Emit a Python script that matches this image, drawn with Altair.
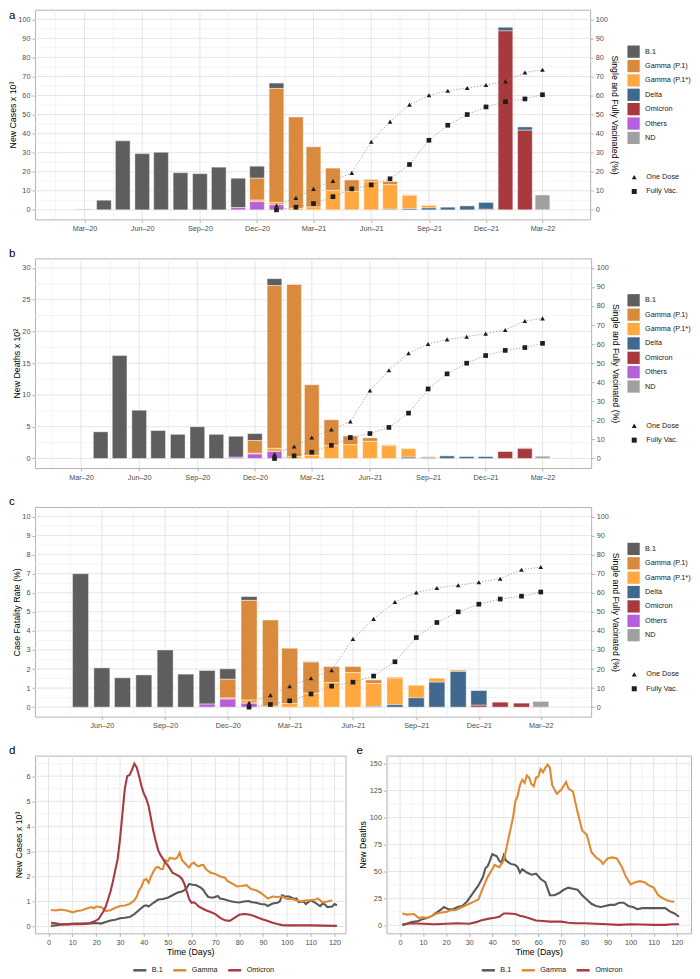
import altair as alt
import pandas as pd

FONT = "Liberation Sans"
SMALL = 7.3
TITLE = 8.8
GRID_MAJOR = "#E2E2E2"
GRID_MINOR = "#EDEDED"
LABEL = "#4D4D4D"

# ---------------- categories ----------------
variants = ["B.1", "Gamma (P.1)", "Gamma (P.1*)", "Delta", "Omicron", "Others", "ND"]
variant_colors = ["#5E5E5E", "#D98A3D", "#FFA83F", "#3F6A8E", "#A83A3E", "#B560DA", "#A0A0A0"]
variant_stack_rank = [6, 5, 4, 3, 2, 1, 0]

months_ab = [d.strftime("%Y-%m-%d") for d in pd.date_range("2020-03-01", "2022-03-01", freq="MS")]
months_c = [d.strftime("%Y-%m-%d") for d in pd.date_range("2020-05-01", "2022-03-01", freq="MS")]
vac_months = [d.strftime("%Y-%m-%d") for d in pd.date_range("2021-01-01", "2022-03-01", freq="MS")]

ticks_ab = ["2020-03-01", "2020-06-01", "2020-09-01", "2020-12-01", "2021-03-01",
            "2021-06-01", "2021-09-01", "2021-12-01", "2022-03-01"]
ticks_c = ["2020-06-01", "2020-09-01", "2020-12-01", "2021-03-01",
           "2021-06-01", "2021-09-01", "2021-12-01", "2022-03-01"]

# ---------------- panel a: new cases x 10^3 ----------------
a_B1 = [0, 5.1, 36.2, 29.5, 30.2, 19.5, 19.0, 22.4, 15.4, 6.3, 2.8, 0, 0, 0, 0, 0, 0, 0, 0, 0, 0, 0, 0, 0, 0]
a_P1 = [0, 0, 0, 0, 0, 0, 0, 0, 0, 11.5, 59.8, 47.9, 31.6, 11.7, 6.0, 0.9, 1.7, 0.3, 0.2, 0, 0, 0, 0, 0, 0]
a_P1s = [0, 0, 0, 0, 0, 0, 0, 0, 0, 0.8, 1.3, 0.8, 1.5, 10.2, 9.7, 15.0, 12.9, 7.0, 1.3, 0.1, 0, 0, 0, 0, 0]
a_Delta = [0] * 16 + [0.3, 0.6, 1.0, 1.4, 2.1, 3.6, 1.9, 1.7, 0]
a_Omicron = [0] * 21 + [0.3, 93.9, 41.8, 0]
a_Others = [0.3, 0, 0, 0, 0, 0, 0, 0, 1.2, 4.3, 2.6] + [0] * 14
a_ND = [0] * 24 + [7.8]

# ---------------- panel b: new deaths x 10^2 ----------------
b_B1 = [0, 4.2, 16.2, 7.6, 4.4, 3.8, 5.0, 3.8, 3.3, 1.1, 1.1] + [0] * 14
b_P1 = [0] * 9 + [2.0, 25.6, 27.1, 11.1, 4.1, 1.4, 0.55, 0.15, 0.05] + [0] * 7
b_P1s = [0] * 9 + [0.12, 0.5, 0.3, 0.5, 2.0, 2.15, 2.7, 2.0, 1.35, 0.15, 0.07] + [0] * 5
b_Delta = [0] * 17 + [0.2, 0.15, 0.4, 0.3, 0.3, 0, 0.12, 0]
b_Omicron = [0] * 22 + [1.1, 1.55, 0]
b_Others = [0.05] + [0] * 7 + [0.2, 0.7, 1.1] + [0] * 14
b_ND = [0] * 24 + [0.35]

# ---------------- panel c: case fatality rate (%) ----------------
c_B1 = [7.0, 2.06, 1.54, 1.69, 3.0, 1.73, 1.76, 0.55, 0.2, 0, 0, 0.03] + [0] * 11
c_P1 = [0] * 7 + [0.98, 5.23, 4.52, 2.9, 1.63, 0.84, 0.32, 0.19, 0.05] + [0] * 7
c_P1s = [0] * 7 + [0.06, 0.17, 0.05, 0.19, 0.73, 1.29, 1.81, 1.2, 1.39, 0.66, 0.21, 0.08] + [0] * 4
c_Delta = [0] * 14 + [0.04, 0.13, 0.49, 1.31, 1.87, 0.77, 0, 0, 0]
c_Omicron = [0] * 19 + [0.1, 0.26, 0.21, 0]
c_Others = [0] * 6 + [0.16, 0.42, 0.2] + [0] * 14
c_ND = [0] * 22 + [0.3]

# ---------------- vaccination (%) ----------------
vac_series = ["One Dose", "Fully Vac."]
one_dose = [2.3, 6.3, 11.0, 15.2, 19.4, 35.7, 46.3, 55.2, 60.1, 62.5, 63.9, 65.5, 67.4, 72.1, 73.5]
fully_vac = [0.0, 1.4, 3.3, 6.9, 11.0, 13.1, 16.3, 23.8, 36.5, 44.4, 50.0, 54.0, 56.7, 58.2, 60.4]

# ---------------- panel d: new cases x 10^3 by day ----------------
line_variants = ["B.1", "Gamma", "Omicron"]
line_colors = ["#595959", "#E08A36", "#A93A3F"]

d_b1_days = [1, 3, 5, 8, 11, 14, 17, 20, 22, 24, 26, 28, 30, 32, 34, 36, 38, 40, 41, 42, 44, 46, 48, 50, 52,
             54, 56, 57, 58, 59, 60, 62, 64, 65, 66, 67, 69, 71, 72, 74, 76, 78, 80, 82, 84, 85, 87, 89, 91, 92,
             94, 96, 97, 98, 99, 101, 103, 104, 105, 107, 108, 110, 112, 113, 114, 115, 116, 117, 119, 120, 121]
d_b1_vals = [0.03, 0.05, 0.07, 0.1, 0.12, 0.12, 0.13, 0.14, 0.12, 0.18, 0.24, 0.27, 0.33, 0.35, 0.38, 0.5, 0.66,
             0.82, 0.85, 0.8, 0.95, 1.08, 1.1, 1.15, 1.25, 1.35, 1.4, 1.45, 1.55, 1.7, 1.68, 1.65, 1.55, 1.45, 1.3,
             1.18, 1.15, 1.22, 1.12, 1.08, 1.02, 0.98, 0.96, 1.0, 1.02, 0.98, 0.95, 0.9, 0.88, 0.82, 0.92, 0.95,
             1.0, 1.25, 1.2, 1.2, 1.1, 1.12, 0.98, 1.0, 0.9, 1.05, 0.95, 0.88, 0.82, 0.92, 0.88, 0.78, 0.8, 0.9, 0.85]
d_gamma_days = [1, 3, 5, 7, 9, 10, 12, 14, 16, 18, 19, 20, 22, 23, 24, 26, 28, 30, 32, 34, 36, 37, 38, 39, 40,
                41, 42, 43, 44, 45, 46, 47, 48, 49, 50, 51, 52, 53, 54, 55, 56, 57, 58, 59, 60, 61, 62, 63, 64, 65,
                66, 67, 68, 70, 72, 74, 75, 77, 79, 81, 83, 85, 87, 89, 91, 92, 94, 96, 98, 100, 102, 104, 106, 108,
                110, 112, 113, 115, 117, 119]
d_gamma_vals = [0.66, 0.64, 0.68, 0.65, 0.6, 0.57, 0.62, 0.65, 0.72, 0.78, 0.73, 0.8, 0.78, 0.72, 0.62, 0.65, 0.75,
                0.82, 0.84, 0.9, 1.05, 1.2, 1.45, 1.6, 1.85, 1.9, 1.75, 2.0, 2.2, 2.35, 2.38, 2.3, 2.3, 2.65, 2.6,
                2.75, 2.72, 2.7, 2.75, 2.95, 2.65, 2.55, 2.45, 2.35, 2.5, 2.55, 2.45, 2.4, 2.45, 2.45, 2.3, 2.22,
                2.15, 2.1, 2.0, 1.95, 1.82, 1.72, 1.6, 1.62, 1.65, 1.5, 1.45, 1.35, 1.2, 1.12, 1.2, 1.18, 1.2, 1.1,
                1.1, 1.05, 1.0, 1.05, 1.05, 1.08, 1.12, 0.97, 1.0, 1.05]
d_omi_days = [1, 3, 5, 8, 11, 14, 17, 19, 20, 21, 22, 23, 24, 25, 26, 27, 28, 29, 30, 31, 32, 33, 34, 35, 36,
              37, 38, 39, 40, 41, 42, 43, 44, 45, 46, 47, 48, 49, 50, 51, 52, 53, 54, 55, 56, 57, 58, 59, 60, 61,
              62, 63, 64, 66, 68, 70, 72, 74, 76, 78, 80, 82, 84, 86, 88, 90, 92, 94, 96, 98, 100, 105, 110, 115, 121]
d_omi_vals = [0.15, 0.13, 0.09, 0.09, 0.1, 0.1, 0.12, 0.2, 0.25, 0.3, 0.45, 0.6, 0.8, 1.1, 1.4, 1.8, 2.25, 2.7,
              3.5, 4.5, 5.5, 6.0, 6.05, 6.25, 6.5, 6.35, 6.0, 5.6, 5.3, 5.1, 4.8, 4.3, 3.8, 3.4, 3.05, 2.85, 2.7,
              2.55, 2.45, 2.3, 2.15, 2.1, 2.05, 2.0, 1.9, 1.7, 1.4, 1.1, 0.95, 0.97, 0.9, 0.8, 0.75, 0.65, 0.58,
              0.5, 0.35, 0.25, 0.23, 0.35, 0.47, 0.5, 0.48, 0.43, 0.35, 0.28, 0.22, 0.15, 0.1, 0.06, 0.05, 0.05,
              0.05, 0.04, 0.03]

# ---------------- panel e: new deaths by day ----------------
e_b1_days = [1, 3, 5, 8, 10, 12, 14, 16, 18, 19, 21, 23, 25, 27, 29, 31, 32, 34, 36, 37, 38, 39, 40, 42, 43,
             44, 45, 46, 48, 50, 51, 52, 53, 55, 57, 59, 61, 63, 65, 67, 69, 71, 73, 75, 77, 79, 81, 83, 85, 87,
             89, 91, 93, 95, 97, 99, 101, 103, 105, 107, 109, 111, 113, 115, 117, 119, 121]
e_b1_vals = [0, 1.5, 3, 4, 6, 7, 9, 12, 15, 17, 15, 15, 17, 18, 22, 28, 31, 37, 45, 53, 55, 60, 66, 64, 60,
             58, 65, 60, 57, 56, 54, 49, 52, 49, 47, 48, 43, 40, 28, 28, 30, 33, 35, 34, 33, 28, 24, 20, 18, 17,
             18, 19, 19, 21, 21, 18, 17, 15, 16, 16, 16, 16, 16, 16, 13, 11, 8]
e_gamma_days = [1, 3, 6, 8, 10, 12, 14, 16, 18, 20, 22, 24, 26, 28, 30, 32, 34, 36, 38, 40, 41, 43, 45, 47, 49,
                50, 51, 52, 53, 54, 55, 56, 57, 58, 59, 60, 61, 62, 63, 64, 65, 66, 68, 70, 72, 73, 75, 77, 79, 81,
                83, 85, 87, 88, 90, 92, 94, 96, 98, 100, 102, 104, 106, 108, 110, 112, 114, 116, 118, 119]
e_gamma_vals = [11, 10, 10.5, 7, 7.5, 7, 9, 11, 12, 12.5, 14, 14, 16, 18, 20, 22, 24, 35, 45, 52, 56, 54, 60, 80,
                100, 115, 120, 130, 135, 132, 139, 137, 131, 129, 137, 138, 145, 142, 146, 149, 146, 130, 122, 126,
                133, 127, 124, 105, 88, 84, 68, 63, 60, 57, 62, 63, 62, 55, 45, 38, 40, 41, 40, 37, 35, 28, 25, 23,
                22, 22]
e_omi_days = [1, 5, 10, 15, 20, 25, 30, 33, 35, 38, 41, 43, 45, 47, 50, 52, 54, 57, 59, 62, 65, 68, 70, 73, 76,
              80, 85, 90, 95, 100, 105, 110, 115, 118, 121]
e_omi_vals = [1, 2, 1.5, 1, 1.5, 2, 1.5, 3, 4.5, 6, 7, 8, 11, 11, 10.5, 9, 8, 6, 4.5, 4, 3.5, 3.5, 3.5, 2.5, 2,
              2, 1.5, 1, 0.5, 1, 0.8, 0.5, 0.5, 1, 1]


def utc(s):
    y, m, d = (int(p) for p in s.split("-"))
    return alt.DateTime(year=y, month=m, date=d, utc=True)


def minor_dates(ticks, lo, hi):
    ext = pd.date_range(pd.Timestamp(ticks[0]) - pd.DateOffset(months=3),
                        pd.Timestamp(ticks[-1]) + pd.DateOffset(months=3), freq="3MS")
    mids = [a + (b - a) / 2 for a, b in zip(ext[:-1], ext[1:])]
    return [m.strftime("%Y-%m-%d") for m in mids if pd.Timestamp(lo) <= m <= pd.Timestamp(hi)]


def letter_layer(letter, x, y):
    return alt.Chart(pd.DataFrame({"t": [letter]})).mark_text(
        align="left", baseline="middle", fontSize=11.5, font=FONT, color="black"
    ).encode(text="t:N", x=alt.value(x), y=alt.value(y))


def bar_panel(letter, letter_y, months, series, ytitle, ydom, yticks, yminor,
              xdom, xticks, width, height, bar_w):
    rows = []
    for name, rank, vals in zip(variants, variant_stack_rank, series):
        for m, v in zip(months, vals):
            if v > 0:
                rows.append({"date": m, "variant": name, "rank": rank, "value": v})
    df = pd.DataFrame(rows)

    xs = alt.Scale(type="utc", domain=[utc(xdom[0]), utc(xdom[1])])
    xax = alt.Axis(values=[utc(t) for t in xticks], labelExpr="utcFormat(datum.value, '%b\u2013%y')",
                   title=None, labelAngle=0, labelFlush=False, labelOverlap=False, grid=False,
                   labelColor=LABEL)

    def X():
        return alt.X("date:T", scale=xs, axis=xax)

    ys = alt.Scale(domain=ydom, nice=False, zero=False)
    gx_minor = alt.Chart(pd.DataFrame({"date": minor_dates(xticks, xdom[0], xdom[1])})).mark_rule(
        color=GRID_MINOR, strokeWidth=0.6).encode(x=X())
    gx_major = alt.Chart(pd.DataFrame({"date": xticks})).mark_rule(
        color=GRID_MAJOR, strokeWidth=0.9).encode(x=X())
    gy_minor = alt.Chart(pd.DataFrame({"v": yminor})).mark_rule(
        color=GRID_MINOR, strokeWidth=0.6).encode(y=alt.Y("v:Q", scale=ys, axis=None))
    gy_major = alt.Chart(pd.DataFrame({"v": yticks})).mark_rule(
        color=GRID_MAJOR, strokeWidth=0.9).encode(y=alt.Y("v:Q", scale=ys, axis=None))

    bars = alt.Chart(df).mark_bar(width=bar_w, stroke="white", strokeWidth=0.6, strokeOpacity=0.7).encode(
        x=X(),
        y=alt.Y("value:Q", scale=ys, stack="zero",
                axis=alt.Axis(orient="left", values=yticks, title=ytitle, titlePadding=0, labelOverlap=False)),
        color=alt.Color("variant:N", scale=alt.Scale(domain=variants, range=variant_colors),
                        legend=alt.Legend(title=None, orient="none", legendX=593, legendY=35.5,
                                          symbolType="square", symbolSize=151, symbolStrokeWidth=0,
                                          rowPadding=1.4, labelOffset=5, padding=0)),
        order=alt.Order("rank:Q", sort="ascending"),
    )

    vrows = []
    for name, vals in zip(vac_series, [one_dose, fully_vac]):
        for m, v in zip(vac_months, vals):
            vrows.append({"date": m, "series": name, "value": v})
    vdf = pd.DataFrame(vrows)
    vs = alt.Scale(domain=[-5, 105], nice=False, zero=False)
    vax = alt.Axis(orient="right", values=list(range(0, 101, 10)), title="Single and Fully Vacinated (%)",
                   titlePadding=2, labelOverlap=False)
    vline = alt.Chart(vdf).mark_line(color="#8A8A8A", strokeWidth=0.8, strokeDash=[1.2, 1.8]).encode(
        x=X(), y=alt.Y("value:Q", scale=vs, axis=vax), detail="series:N")
    vpts = alt.Chart(vdf).mark_point(filled=True, opacity=1, size=22, color="#1E1E1E").encode(
        x=X(), y=alt.Y("value:Q", scale=vs, axis=vax),
        shape=alt.Shape("series:N", scale=alt.Scale(domain=vac_series, range=["triangle-up", "square"]),
                        legend=alt.Legend(title=None, orient="none", legendX=596.5, legendY=164, symbolSize=25,
                                          symbolFillColor="#1E1E1E", symbolStrokeWidth=0, rowPadding=6.4,
                                          labelOffset=8.5, padding=0)),
    )

    return alt.layer(gx_minor, gx_major, gy_minor, gy_major, bars, alt.layer(vline, vpts),
                     letter_layer(letter, -26, letter_y)
                     ).resolve_scale(y="independent").properties(width=width, height=height)


def line_panel(letter, letter_x, days_list, vals_list, ytitle, ydom, yticks, yminor, xdom, width, height,
               legend_x):
    rows = []
    for name, ds, vs_ in zip(line_variants, days_list, vals_list):
        for d, v in zip(ds, vs_):
            rows.append({"day": d, "variant": name, "value": v})
    df = pd.DataFrame(rows)
    xs = alt.Scale(domain=xdom, nice=False, zero=False)
    xticks = list(range(0, 121, 10))
    xminor = [v for v in range(-5, 130, 10) if xdom[0] <= v <= xdom[1]]
    xax = alt.Axis(values=xticks, title="Time (Days)", titlePadding=2, labelFlush=False, labelOverlap=False,
                   grid=False)

    def X(field):
        return alt.X(field, scale=xs, axis=xax)

    ys = alt.Scale(domain=ydom, nice=False, zero=False)
    gx_minor = alt.Chart(pd.DataFrame({"d": xminor})).mark_rule(color=GRID_MINOR, strokeWidth=0.6).encode(
        x=X("d:Q"))
    gx_major = alt.Chart(pd.DataFrame({"d": xticks})).mark_rule(color=GRID_MAJOR, strokeWidth=0.9).encode(
        x=X("d:Q"))
    gy_minor = alt.Chart(pd.DataFrame({"v": yminor})).mark_rule(color=GRID_MINOR, strokeWidth=0.6).encode(
        y=alt.Y("v:Q", scale=ys, axis=None))
    gy_major = alt.Chart(pd.DataFrame({"v": yticks})).mark_rule(color=GRID_MAJOR, strokeWidth=0.9).encode(
        y=alt.Y("v:Q", scale=ys, axis=None))
    lines = alt.Chart(df).mark_line(strokeWidth=2.1).encode(
        x=X("day:Q"),
        y=alt.Y("value:Q", scale=ys, axis=alt.Axis(values=yticks, title=ytitle, titlePadding=2,
                                                   labelOverlap=False)),
        color=alt.Color("variant:N", scale=alt.Scale(domain=line_variants, range=line_colors),
                        legend=alt.Legend(title=None, orient="none", direction="horizontal", legendX=legend_x,
                                          legendY=207, symbolType="stroke", symbolStrokeWidth=2.5,
                                          symbolSize=170, labelOffset=4, columnPadding=5, padding=0)),
    )
    return alt.layer(gx_minor, gx_major, gy_minor, gy_major, lines,
                     letter_layer(letter, letter_x, -4.5)
                     ).resolve_scale(y="independent").properties(width=width, height=height)


pa = bar_panel("a", 6.5, months_ab, [a_B1, a_P1, a_P1s, a_Delta, a_Omicron, a_Others, a_ND],
               "New Cases x 10\u00b3", [-5, 105], list(range(0, 101, 10)), list(range(5, 100, 10)),
               ["2019-12-21", "2022-05-08"], ticks_ab, 556, 210, 14.7)
pb = bar_panel("b", -4.5, months_ab, [b_B1, b_P1, b_P1s, b_Delta, b_Omicron, b_Others, b_ND],
               "New Deaths x 10\u00b2", [-1.5, 31.5], list(range(0, 31, 5)), [2.5 + 5 * i for i in range(6)],
               ["2019-12-27", "2022-05-09"], ticks_ab, 557, 210, 14.7)
pc = bar_panel("c", -4.5, months_c, [c_B1, c_P1, c_P1s, c_Delta, c_Omicron, c_Others, c_ND],
               "Case Fatality Rate (%)", [-0.5, 10.5], list(range(0, 11)), [0.5 + i for i in range(10)],
               ["2020-03-03", "2022-05-06"], ticks_c, 557, 210, 16.0)

pd_ = line_panel("d", -26, [d_b1_days, d_gamma_days, d_omi_days], [d_b1_vals, d_gamma_vals, d_omi_vals],
                 "New Cases x 10\u00b3", [-0.27, 6.82], list(range(0, 7)), [0.5 + i for i in range(7)],
                 [-5.7, 124.6], 311, 178, 97)
pe_ = line_panel("e", -30, [e_b1_days, e_gamma_days, e_omi_days], [e_b1_vals, e_gamma_vals, e_omi_vals],
                 "New Deaths", [-7.4, 157.4], list(range(0, 151, 25)), [12.5 + 25 * i for i in range(6)],
                 [-5.9, 126.2], 305, 178, 94)

de = alt.hconcat(pd_, pe_, spacing=41, bounds="flush").resolve_scale(color="independent")

chart = alt.vconcat(pa, pb, pc, de, spacing=39, bounds="flush").resolve_scale(
    color="independent", shape="independent"
).properties(padding=0, background="white").configure_view(
    stroke="#B3B3B3", strokeWidth=1
).configure_axis(
    domain=False, tickColor="#B3B3B3", tickSize=3, tickWidth=1,
    labelColor=LABEL, labelFontSize=SMALL, labelFont=FONT, labelPadding=2,
    titleFont=FONT, titleFontSize=TITLE, titleFontWeight="normal", titleColor="black", grid=False
).configure_legend(
    labelFont=FONT, labelFontSize=SMALL, labelColor="#1A1A1A", labelLimit=200
)

chart.save("out.html", embed_options={"renderer": "svg", "actions": False})
